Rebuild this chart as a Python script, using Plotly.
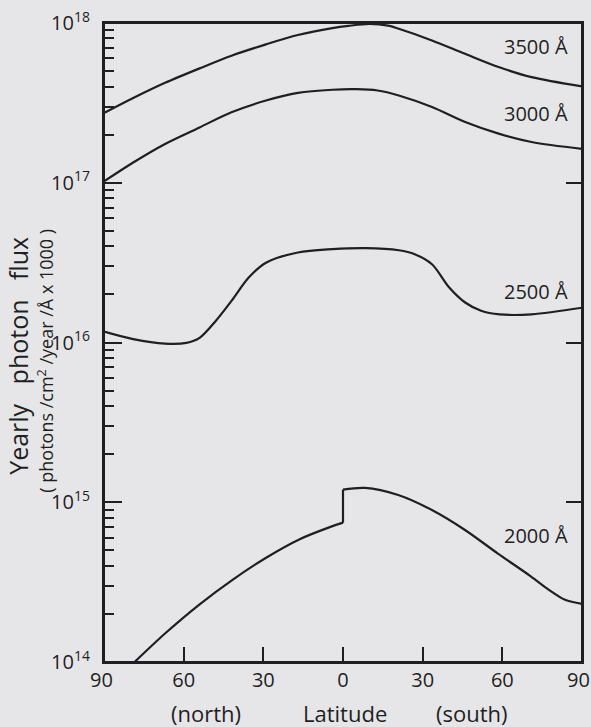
import plotly.graph_objects as go

# ---------------- data ----------------
lat_3500 = [-90, -79, -67, -54, -42, -29, -17, -4, 2, 10, 17, 21, 33.5, 46, 58.6, 71, 90]
flux_3500 = [2.73e17, 3.39e17, 4.22e17, 5.20e17, 6.24e17, 7.35e17, 8.41e17, 9.29e17,
             9.59e17, 9.86e17, 9.62e17, 9.20e17, 7.78e17, 6.41e17, 5.30e17, 4.58e17, 4.01e17]

lat_3000 = [-90, -79, -67, -54, -42, -29, -17, -4, 5, 13, 21, 33.5, 46, 58.6, 71, 90]
flux_3000 = [1.02e17, 1.34e17, 1.75e17, 2.22e17, 2.76e17, 3.27e17, 3.65e17, 3.82e17,
             3.85e17, 3.78e17, 3.52e17, 2.98e17, 2.40e17, 2.03e17, 1.80e17, 1.63e17]

lat_2500 = [-90, -79, -67, -59, -54, -48, -42, -35.5, -29, -17, -4, 8.5, 21, 27, 33.5,
            40, 46, 52, 59, 71, 90]
flux_2500 = [1.17e16, 1.05e16, 9.84e15, 9.95e15, 1.07e16, 1.36e16, 1.82e16, 2.55e16,
             3.16e16, 3.66e16, 3.84e16, 3.90e16, 3.78e16, 3.57e16, 3.09e16, 2.21e16,
             1.78e16, 1.58e16, 1.50e16, 1.50e16, 1.65e16]

lat_2000_north = [-78.5, -66.6, -54.1, -41.6, -29.1, -16.7, -4.2, 0]
flux_2000_north = [1.0e14, 1.53e14, 2.29e14, 3.27e14, 4.48e14, 5.83e14, 7.06e14, 7.45e14]
lat_2000_south = [0, 8.3, 20.8, 33.3, 45.8, 58.2, 70.7, 77.4, 83.6, 90]
flux_2000_south = [1.20e15, 1.23e15, 1.11e15, 8.97e14, 6.73e14, 4.79e14, 3.44e14,
                   2.84e14, 2.45e14, 2.31e14]

curve_labels = ["3500 Å", "3000 Å", "2500 Å", "2000 Å"]

x_tickvals = [-90, -60, -30, 0, 30, 60, 90]
x_ticktext = ["90\u00a0", "60", "30", "0", "30", "60", ""]
x_end_label = "90"
y_tickvals = [1e14, 1e15, 1e16, 1e17, 1e18]
y_ticktext = ["10<sup>14</sup>", "10<sup>15</sup>", "10<sup>16</sup>",
              "10<sup>17</sup>", "10<sup>18</sup>"]
y_minor = [m * 10 ** e for e in range(14, 18) for m in range(2, 10)]
y_right_ticks = [1e15, 1e16, 1e17]

# ---------------- style ----------------
FONT = "Open Sans"
INK = "#1f1f23"
BG = "#e6e6e8"
LW = 2.2

fig = go.Figure()

def add_curve(x, y, yaxis="y"):
    fig.add_trace(go.Scatter(x=x, y=y, mode="lines", yaxis=yaxis,
                             line=dict(color=INK, width=LW, shape="spline", smoothing=0.9),
                             showlegend=False, hoverinfo="skip"))

add_curve(lat_3500, flux_3500)
add_curve(lat_3000, flux_3000)
add_curve(lat_2500, flux_2500, yaxis="y2")   # same scale; anchors the right-hand axis
add_curve(lat_2000_north, flux_2000_north)
add_curve(lat_2000_south, flux_2000_south)
# vertical step of the 2000 Å curve at the equator
fig.add_trace(go.Scatter(x=[lat_2000_north[-1], lat_2000_south[0]],
                         y=[flux_2000_north[-1], flux_2000_south[0]],
                         mode="lines", line=dict(color=INK, width=LW),
                         showlegend=False, hoverinfo="skip"))

W, H = 591, 727
ML, MR, MT, MB = 104, 7, 22, 65
PW, PH = W - ML - MR, H - MT - MB

def px(X):
    return (X - ML) / PW

def py(Y):
    return (H - MB - Y) / PH

axis_common = dict(showline=True, linecolor=INK, linewidth=2, showgrid=False,
                   zeroline=False, tickcolor=INK, tickwidth=2)

fig.update_layout(
    width=W, height=H,
    margin=dict(l=ML, r=MR, t=MT, b=MB),
    paper_bgcolor=BG, plot_bgcolor=BG,
    font=dict(family=FONT, color=INK, size=20),
    xaxis=dict(range=[-90, 90], tickvals=x_tickvals, ticktext=x_ticktext,
               ticks="inside", ticklen=15, mirror=True, ticklabelstandoff=-1,
               tickfont=dict(family=FONT, size=20, color=INK), **axis_common),
    yaxis=dict(type="log", range=[14, 18], tickvals=y_tickvals, ticktext=y_ticktext,
               ticks="inside", ticklen=18,
               minor=dict(tickvals=y_minor, ticks="inside", ticklen=10,
                          tickwidth=2, tickcolor=INK, showgrid=False),
               mirror=True, ticklabelstandoff=8,
               tickfont=dict(family=FONT, size=20, color=INK), **axis_common),
    yaxis2=dict(type="log", range=[14, 18], overlaying="y", side="right",
                tickvals=y_right_ticks, ticks="inside", ticklen=16,
                showticklabels=False, **axis_common),
)

# plot frame
fig.add_shape(type="rect", xref="paper", yref="paper", x0=0, x1=1, y0=0, y1=1,
              line=dict(color=INK, width=2), fillcolor="rgba(0,0,0,0)", layer="above")

# right-most x tick label (kept inside the page)
fig.add_annotation(text=x_end_label, xref="x", yref="paper", x=90, y=py(680),
                   xanchor="center", yanchor="middle", xshift=-4, showarrow=False,
                   font=dict(family=FONT, size=20, color=INK))

# curve labels
label_y = [46, 113, 290.5, 535.5]
for txt, yy in zip(curve_labels, label_y):
    fig.add_annotation(text=txt, xref="paper", yref="paper", x=px(572), y=py(yy),
                       xanchor="right", yanchor="middle", showarrow=False,
                       font=dict(family=FONT, size=20, color=INK))

# x-axis title pieces
for txt, xx in [("(north)", 206.7), ("Latitude", 345.8), ("(south)", 473.5)]:
    fig.add_annotation(text=txt, xref="paper", yref="paper", x=px(xx), y=py(713),
                       xanchor="center", yanchor="middle", showarrow=False,
                       font=dict(family=FONT, size=22, color=INK))

# y-axis title (two lines)
fig.add_annotation(text="Yearly\u00a0\u00a0\u00a0photon\u00a0\u00a0\u00a0flux",
                   xref="paper", yref="paper",
                   x=px(18), y=py(355), textangle=-90, xanchor="center", yanchor="middle",
                   showarrow=False, font=dict(family=FONT, size=25, color=INK))
fig.add_annotation(text="( photons /cm<sup>2</sup> /year /Å x 1000 )", xref="paper", yref="paper",
                   x=px(46), y=py(360), textangle=-90, xanchor="center", yanchor="middle",
                   showarrow=False, font=dict(family=FONT, size=18, color=INK))

fig.write_html("out.html",
               config={"displayModeBar": False},
               post_script="document.body.style.margin='0px';"
                           "document.body.style.overflow='hidden';")
